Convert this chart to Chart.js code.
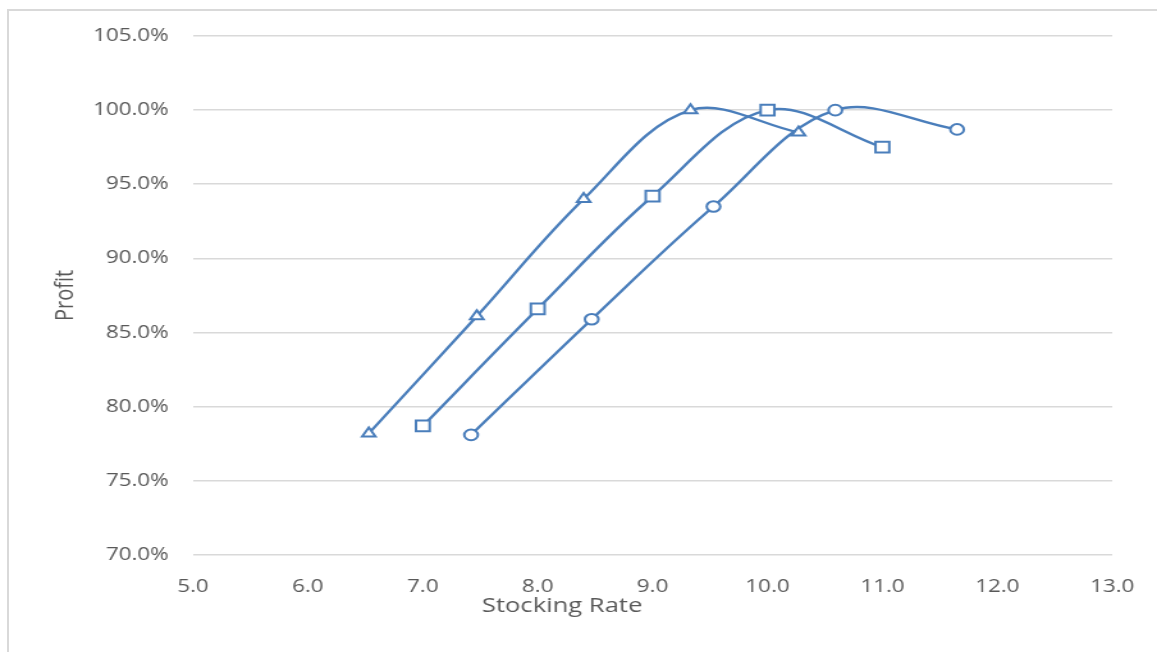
<!DOCTYPE html>
<html>
<head>
<meta charset="utf-8">
<title>Profit vs Stocking Rate</title>
<script src="https://cdn.jsdelivr.net/npm/chart.js@4/dist/chart.umd.min.js"></script>
<style>
  html, body { margin: 0; padding: 0; background: #ffffff; }
  #wrap { position: relative; width: 1157px; height: 652px; overflow: hidden; }
  #frame { position: absolute; left: 7px; top: 9px; right: -10px; bottom: -10px;
           border-left: 2px solid #d9d9d9; border-top: 2px solid #d9d9d9; }
  #chart { position: absolute; left: 0; top: 0; }
</style>
</head>
<body>
<div id="wrap">
  <div id="frame"></div>
  <canvas id="chart" width="904" height="652" style="width:1157px;height:652px"></canvas>
</div>
<script>
// Stocking rate (x) and profit in % (y) for the three curves
const triangleRate   = [6.53, 7.47, 8.40, 9.33, 10.27];
const triangleProfit = [78.2, 86.1, 94.0, 100.0, 98.5];

const squareRate     = [7.0, 8.0, 9.0, 10.0, 11.0];
const squareProfit   = [78.7, 86.6, 94.2, 100.0, 97.5];

const circleRate     = [7.42, 8.47, 9.53, 10.59, 11.65];
const circleProfit   = [78.1, 85.9, 93.5, 100.0, 98.7];

// Axis ranges and labels
const xTicks = [5, 6, 7, 8, 9, 10, 11, 12, 13];
const yTicks = [70, 75, 80, 85, 90, 95, 100, 105];
const xTitle = 'Stocking Rate';
const yTitle = 'Profit';

const blue = '#4a7ebb';
const grey = '#595959';
const font = '"Open Sans", "Noto Sans", sans-serif';

function points(xs, ys) {
  return xs.map((x, i) => ({ x: x, y: ys[i] }));
}

function series(xs, ys, style, radius) {
  return {
    data: points(xs, ys),
    showLine: true,
    borderColor: blue,
    borderWidth: 2.4,
    tension: 0.36,
    pointStyle: style,
    pointRadius: radius,
    pointHoverRadius: radius,
    pointBorderColor: blue,
    pointBackgroundColor: '#ffffff',
    pointBorderWidth: 2
  };
}

// x-axis title, set a little left of the plot centre
const xTitlePlugin = {
  id: 'xTitleText',
  afterDraw(chart) {
    const { ctx, chartArea } = chart;
    ctx.save();
    ctx.font = '20px ' + font;
    ctx.fillStyle = grey;
    ctx.textAlign = 'center';
    ctx.textBaseline = 'middle';
    const cx = chartArea.left + 0.4015 * (chartArea.right - chartArea.left);
    ctx.fillText(xTitle, cx, chartArea.bottom + 51);
    ctx.restore();
  }
};

new Chart(document.getElementById('chart'), {
  type: 'scatter',
  data: {
    datasets: [
      series(triangleRate, triangleProfit, 'triangle', 6),
      series(squareRate, squareProfit, 'rect', 7.6),
      series(circleRate, circleProfit, 'circle', 5.3)
    ]
  },
  options: {
    responsive: false,
    devicePixelRatio: 1,
    animation: false,
    layout: { padding: { left: 0, top: 36, right: 35, bottom: 0 } },
    plugins: {
      legend: { display: false },
      tooltip: { enabled: false }
    },
    scales: {
      x: {
        type: 'linear',
        min: xTicks[0],
        max: xTicks[xTicks.length - 1],
        afterBuildTicks(scale) { scale.ticks = xTicks.map(v => ({ value: v })); },
        afterFit(scale) { scale.height = 97; },
        grid: { display: false },
        border: { display: false },
        ticks: {
          color: grey,
          font: { family: font, size: 17.5 },
          padding: 14,
          maxRotation: 0,
          callback: v => Number(v).toFixed(1)
        }
      },
      y: {
        type: 'linear',
        min: yTicks[0],
        max: yTicks[yTicks.length - 1],
        afterBuildTicks(scale) { scale.ticks = yTicks.map(v => ({ value: v })); },
        afterFit(scale) { scale.width = 150.8; },
        grid: { color: '#d9d9d9', lineWidth: 1.6, drawTicks: false },
        border: { display: false },
        ticks: {
          color: grey,
          font: { family: font, size: 17.5 },
          padding: 19,
          callback: v => Number(v).toFixed(1) + '%'
        },
        title: {
          display: true,
          text: yTitle,
          color: grey,
          font: { family: font, size: 20 },
          padding: { top: 39.5, bottom: 0 }
        }
      }
    }
  },
  plugins: [xTitlePlugin]
});
</script>
</body>
</html>
